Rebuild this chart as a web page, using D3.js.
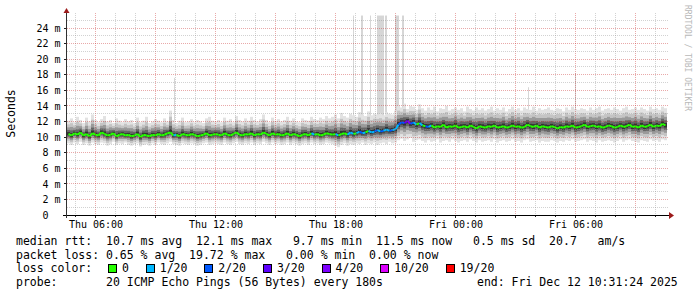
<!DOCTYPE html>
<html>
<head>
<meta charset="utf-8">
<script src="https://cdn.jsdelivr.net/npm/d3@7"></script>
<style>
  body { margin: 0; background: #fff; }
  text { font-family: "DejaVu Sans Mono", monospace; }
</style>
</head>
<body>
<div id="chart"></div>
<script>
// time window of the graph, one sample every 9 minutes
var startTime = "2025-12-11T04:34:30";
var endTime = "2025-12-12T10:34:30";
var stepMinutes = 9;

// median rtt per step (ms)
var median = [
  10.4,10.2,10.5,10.3,10.6,10.2,10.4,10.1,10.5,10.3,
  10.2,10.6,10.4,10.2,10.3,10.5,10.1,10.3,10.4,10.2,
  10.3,10.1,10.2,10.4,10.0,10.3,10.2,10.1,10.3,10.2,
  10.4,10.2,10.3,10.5,10.6,10.2,10.3,10.1,10.4,10.3,
  10.2,10.4,10.3,10.1,10.2,10.3,10.5,10.2,10.3,10.4,
  10.3,10.2,10.5,10.3,10.2,10.4,10.6,10.3,10.2,10.4,
  10.3,10.5,10.2,10.4,10.3,10.6,10.4,10.2,10.5,10.3,
  10.4,10.2,10.3,10.5,10.2,10.4,10.3,10.1,10.3,10.4,
  10.2,10.5,10.3,10.4,10.2,10.3,10.5,10.4,10.3,10.4,
  10.2,10.4,10.5,10.3,10.6,10.4,10.5,10.7,10.5,10.6,
  10.8,10.6,10.7,10.9,10.7,10.8,11.0,10.8,10.9,11.0,
  11.6,11.9,11.8,12.1,11.7,11.9,11.6,11.8,11.5,11.4,
  11.3,11.5,11.2,11.4,11.3,11.6,11.2,11.4,11.3,11.5,
  11.2,11.3,11.4,11.2,11.5,11.3,11.1,11.4,11.3,11.2,
  11.4,11.3,11.5,11.2,11.3,11.4,11.2,11.3,11.5,11.3,
  11.4,11.2,11.3,11.6,11.4,11.3,11.5,11.2,11.4,11.3,
  11.2,11.4,11.3,11.1,11.3,11.2,11.4,11.3,11.5,11.2,
  11.3,11.4,11.6,11.3,11.4,11.5,11.3,11.4,11.2,11.3,
  11.5,11.4,11.2,11.3,11.5,11.3,11.4,11.6,11.3,11.4,
  11.2,11.5,11.3,11.4,11.6,11.3,11.5,11.4,11.7,11.5
];

// fastest ping per step (ms)
var lo = [
  9.2,9.0,9.3,9.1,9.4,9.0,9.2,8.9,9.3,9.1,
  9.0,9.3,9.2,8.9,9.1,9.4,9.0,9.2,9.1,9.3,
  9.0,8.9,9.1,9.2,8.8,9.0,9.1,8.9,9.2,9.0,
  9.3,9.1,9.0,9.2,9.4,9.1,9.0,8.9,9.2,9.1,
  9.0,9.2,9.1,8.9,9.0,9.2,9.3,9.0,9.1,9.2,
  9.1,9.0,9.3,9.1,9.0,9.2,9.4,9.1,9.0,9.2,
  9.1,9.3,9.0,9.2,9.1,9.4,9.2,9.0,9.3,9.1,
  9.2,9.0,9.1,9.3,9.0,9.2,9.1,8.9,9.1,9.2,
  9.0,9.3,9.1,9.2,9.0,9.1,9.3,9.2,9.1,8.9,
  8.7,9.0,9.2,8.9,9.1,9.0,9.2,9.1,9.3,9.0,
  9.2,9.1,9.3,9.0,9.2,9.3,9.1,9.4,9.2,9.3,
  9.6,9.8,9.5,9.7,9.9,9.4,9.6,9.7,9.5,9.3,
  9.6,9.4,9.5,9.7,9.3,9.5,9.6,9.4,9.7,9.5,
  9.3,9.5,9.6,9.4,9.7,9.5,9.3,9.6,9.4,9.5,
  9.6,9.4,9.7,9.3,9.5,9.6,9.4,9.5,9.7,9.4,
  9.5,9.3,9.6,9.7,9.4,9.5,9.6,9.3,9.5,9.4,
  9.4,9.6,9.5,9.3,9.5,9.4,9.6,9.5,9.7,9.4,
  9.5,9.6,9.7,9.4,9.6,9.5,9.3,9.6,9.4,9.5,
  9.6,9.5,9.3,9.5,9.7,9.4,9.6,9.7,9.5,9.4,
  9.3,9.6,9.5,9.4,9.7,9.5,9.6,9.4,9.7,9.6
];

// slowest ping per step (ms)
var hi = [
  12.1,12.4,11.9,12.6,12.2,11.8,12.5,12.0,12.9,12.2,
  11.9,12.3,12.7,12.0,12.2,11.8,12.4,12.1,11.9,12.3,
  12.0,12.2,11.8,12.5,11.9,12.1,12.6,11.8,12.0,12.3,
  12.1,11.9,12.4,12.0,13.4,12.2,11.8,12.1,12.5,11.9,
  12.0,12.3,11.9,12.2,12.0,11.8,12.4,12.6,12.1,12.0,
  12.2,11.9,12.5,12.1,12.3,11.9,12.7,12.2,12.0,12.4,
  12.1,12.6,12.2,12.0,12.3,12.9,12.2,11.9,12.5,12.1,
  12.3,12.0,12.2,12.6,12.1,12.4,12.0,11.9,12.4,12.2,
  12.1,12.6,12.3,12.2,12.5,12.3,12.7,12.4,12.6,12.9,
  12.4,13.1,12.7,12.5,13.0,12.8,12.6,13.2,12.9,12.7,
  13.3,12.8,13.0,12.9,13.1,12.8,13.2,13.0,12.9,13.4,
  14.1,13.8,14.3,13.6,14.0,13.9,13.5,14.2,13.7,13.4,
  13.8,13.5,13.9,13.3,13.7,13.6,14.0,13.4,13.6,13.8,
  13.5,13.7,13.3,13.9,13.6,13.4,13.8,13.5,13.7,13.4,
  13.6,13.9,13.4,13.7,13.5,13.8,13.3,13.6,13.9,13.5,
  13.7,13.4,13.8,13.6,13.5,13.9,13.4,13.7,13.5,13.6,
  13.8,13.5,13.4,13.7,13.6,13.3,13.8,13.5,13.9,13.6,
  13.5,13.7,13.6,13.4,13.8,13.5,13.7,13.9,13.4,13.6,
  13.7,13.5,13.8,13.6,13.4,13.7,13.9,13.5,13.6,13.8,
  13.5,13.8,13.6,13.4,13.9,13.6,13.7,13.5,13.9,13.7
];

// lost pings out of 20 per step
var loss = [
  0,0,0,0,0,0,0,0,0,0, 0,0,0,0,0,0,0,0,0,0,
  0,0,0,0,0,0,0,0,0,0, 0,0,0,0,0,1,0,0,0,0,
  0,0,0,0,0,0,0,0,0,0, 0,0,0,0,0,0,0,0,0,0,
  0,0,0,0,0,0,0,0,0,0, 0,0,0,0,0,0,0,0,0,0,
  0,1,0,0,0,0,0,0,0,1, 0,0,0,1,1,0,1,2,1,0,
  1,1,2,1,2,1,1,2,1,1, 2,2,3,4,2,1,0,1,0,2,
  1,0,0,0,0,0,0,0,0,0, 0,0,0,0,0,0,0,0,0,0,
  0,0,0,0,0,0,0,0,0,0, 0,0,0,0,0,0,0,0,0,0,
  0,0,0,0,0,0,0,0,0,0, 0,0,0,0,0,0,0,0,0,0,
  0,0,0,0,0,0,0,0,0,0, 0,0,0,0,0,0,0,0,0,0
];

// single slow pings (3 minute samples) sticking out of the smoke
var outlierTimes = [
  "2025-12-11T09:55:30", "2025-12-11T18:52:30", "2025-12-11T19:16:30", "2025-12-11T19:19:30",
  "2025-12-11T19:43:30", "2025-12-11T20:04:30", "2025-12-11T20:07:30", "2025-12-11T20:10:30",
  "2025-12-11T20:13:30", "2025-12-11T20:16:30", "2025-12-11T20:19:30", "2025-12-11T20:22:30",
  "2025-12-11T20:28:30", "2025-12-11T20:31:30", "2025-12-11T20:58:30", "2025-12-11T21:01:30",
  "2025-12-11T21:04:30", "2025-12-11T21:07:30", "2025-12-11T21:19:30", "2025-12-11T21:22:30",
  "2025-12-12T03:37:30", "2025-12-12T05:58:30"
];
var outlierValues = [
  17.6, 25.6, 25.6, 25.6,
  25.6, 25.6, 25.6, 25.6,
  25.6, 25.6, 25.6, 25.6,
  25.6, 25.6, 25.6, 25.6,
  25.6, 25.6, 25.6, 25.6,
  16.4, 18.2
];

var yTickValues = [0, 2, 4, 6, 8, 10, 12, 14, 16, 18, 20, 22, 24];

var lossLabels = ["0", "1/20", "2/20", "3/20", "4/20", "10/20", "19/20"];
var lossLimits = [0, 1, 2, 3, 4, 10, 19];
var lossColors = ["#26ff00", "#00b8ff", "#0059ff", "#5e00ff", "#7e00ff", "#dd00ff", "#ff0000"];

var legendLines = [
  "median rtt:  10.7 ms avg  12.1 ms max   9.7 ms min  11.5 ms now   0.5 ms sd  20.7   am/s",
  "packet loss: 0.65 % avg  19.72 % max   0.00 % min  0.00 % now",
  "loss color:",
  "probe:       20 ICMP Echo Pings (56 Bytes) every 180s"
];
var endLabel = "end: Fri Dec 12 10:31:24 2025";

// ---------------------------------------------------------------
var w = 697, h = 297;
var plotLeft = 67, plotRight = 667, plotTop = 15, plotBase = 215;
var yMax = 25.67;

var parse = d3.timeParse("%Y-%m-%dT%H:%M:%S");
var t0 = parse(startTime), t1 = parse(endTime);

var xScale = d3.scaleTime().domain([t0, t1]).range([plotLeft, plotRight]);
var yScale = d3.scaleLinear().domain([0, yMax]).range([plotBase, plotTop]);

function lossColor(n) {
  var c = lossColors[0];
  lossLimits.forEach(function(l, i) { if (n >= l) c = lossColors[i]; });
  return c;
}

var steps = median.map(function(m, i) {
  return {
    t: d3.timeMinute.offset(t0, i * stepMinutes),
    t2: d3.timeMinute.offset(t0, (i + 1) * stepMinutes),
    med: m, lo: lo[i], hi: hi[i], loss: loss[i]
  };
});

var svg = d3.select("#chart").append("svg")
  .attr("width", w).attr("height", h)
  .style("display", "block");

svg.append("rect").attr("width", w).attr("height", h).attr("fill", "#fff");

// outliers (under the smoke)
svg.append("g").selectAll("rect")
  .data(outlierTimes.map(function(s, i) { return { t: parse(s), v: outlierValues[i] }; }))
  .enter().append("rect")
  .attr("x", function(d) { return xScale(d.t); })
  .attr("width", function(d) { return xScale(d3.timeMinute.offset(d.t, 3)) - xScale(d.t); })
  .attr("y", function(d) { return yScale(d.v); })
  .attr("height", function(d) { return yScale(10) - yScale(d.v); })
  .attr("fill", "#d6d6d6");

// smoke, outer layer light -> inner layer dark
var layers = [
  { f: 1.0, c: "#e2e2e2" },
  { f: 0.72, c: "#c4c4c4" },
  { f: 0.5, c: "#9a9a9a" },
  { f: 0.3, c: "#666666" },
  { f: 0.14, c: "#333333" }
];
layers.forEach(function(L) {
  svg.append("g").selectAll("rect")
    .data(steps)
    .enter().append("rect")
    .attr("x", function(d) { return xScale(d.t); })
    .attr("width", function(d) { return xScale(d.t2) - xScale(d.t); })
    .attr("y", function(d) { return yScale(d.med + (d.hi - d.med) * L.f); })
    .attr("height", function(d) {
      return yScale(d.med - (d.med - d.lo) * L.f) - yScale(d.med + (d.hi - d.med) * L.f);
    })
    .attr("fill", L.c);
});

// median line coloured by loss
var mid = function(d) { return xScale(new Date((d.t.getTime() + d.t2.getTime()) / 2)); };
var seg = d3.line().x(function(d) { return mid(d); }).y(function(d) { return yScale(d.med); });
svg.append("g").selectAll("path")
  .data(d3.pairs(steps))
  .enter().append("path")
  .attr("d", function(p) { return seg(p); })
  .attr("fill", "none")
  .attr("stroke", function(p) { return lossColor(p[0].loss); })
  .attr("stroke-width", 2);

// grid
var grid = svg.append("g").attr("shape-rendering", "crispEdges");
var hours = d3.timeHour.every(1).range(t0, t1);
hours.forEach(function(t) {
  var x = Math.floor(xScale(t)) + 0.5;
  grid.append("line")
    .attr("x1", x).attr("x2", x).attr("y1", plotTop - 2).attr("y2", plotBase)
    .attr("stroke", t.getHours() % 3 === 0 ? "rgba(200,40,40,0.4)" : "rgba(143,143,143,0.4)")
    .attr("stroke-dasharray", "1,1");
});
d3.range(1, 26).forEach(function(v) {
  var y = Math.floor(yScale(v)) + 0.5;
  grid.append("line")
    .attr("x1", plotLeft).attr("x2", plotRight + 2).attr("y1", y).attr("y2", y)
    .attr("stroke", v % 2 === 0 ? "rgba(200,40,40,0.4)" : "rgba(143,143,143,0.4)")
    .attr("stroke-dasharray", "1,1");
});

// axes
var xAxis = d3.axisBottom(xScale)
  .tickValues(d3.timeHour.every(6).range(t0, t1))
  .tickFormat(d3.timeFormat("%a %H:%M"))
  .tickSize(0).tickPadding(6);
var gx = svg.append("g").attr("transform", "translate(0," + plotBase + ")").call(xAxis);
gx.select(".domain").remove();
gx.selectAll("text").attr("font-family", "DejaVu Sans Mono").attr("font-size", "10px").attr("fill", "#000");

var yAxis = d3.axisLeft(yScale)
  .tickValues(yTickValues)
  .tickFormat(function(v) { return v === 0 ? "0  " : v + " m"; })
  .tickSize(0).tickPadding(6.5);
var gy = svg.append("g").attr("transform", "translate(" + plotLeft + ",0)").call(yAxis);
gy.select(".domain").remove();
gy.selectAll("text").attr("font-family", "DejaVu Sans Mono").attr("font-size", "10px")
  .attr("fill", "#000").style("white-space", "pre");

var ax = svg.append("g").attr("shape-rendering", "crispEdges");
hours.forEach(function(t) {
  var x = Math.floor(xScale(t)) + 0.5;
  ax.append("line").attr("x1", x).attr("x2", x).attr("y1", plotBase)
    .attr("y2", plotBase + (t.getHours() % 3 === 0 ? 3 : 2)).attr("stroke", "#202020");
});
yTickValues.forEach(function(v) {
  var y = Math.floor(yScale(v)) + 0.5;
  ax.append("line").attr("x1", plotLeft - 3).attr("x2", plotLeft).attr("y1", y).attr("y2", y).attr("stroke", "#202020");
});
ax.append("line").attr("x1", plotLeft - 4).attr("x2", plotRight + 3).attr("y1", plotBase + 0.5).attr("y2", plotBase + 0.5)
  .attr("stroke", "#000");
ax.append("line").attr("x1", plotLeft - 0.5).attr("x2", plotLeft - 0.5).attr("y1", plotBase + 3).attr("y2", plotTop - 3)
  .attr("stroke", "#303030");
svg.append("path").attr("d", "M" + (plotRight + 2) + "," + (plotBase - 3) + "L" + (plotRight + 7) + "," + (plotBase + 0.5) + "L" + (plotRight + 2) + "," + (plotBase + 4) + "Z")
  .attr("fill", "#9c1b1b");
svg.append("path").attr("d", "M" + (plotLeft - 3.5) + "," + (plotTop - 2) + "L" + (plotLeft - 0.5) + "," + (plotTop - 7) + "L" + (plotLeft + 2.5) + "," + (plotTop - 2) + "Z")
  .attr("fill", "#9c1b1b");

// titles
svg.append("text")
  .attr("transform", "translate(14.5,113.5) rotate(-90)")
  .attr("text-anchor", "middle")
  .attr("font-size", "11.5px")
  .text("Seconds");
svg.append("text")
  .attr("transform", "translate(685,5) rotate(90)")
  .attr("font-size", "8px")
  .attr("fill", "#b8b8b8")
  .text("RRDTOOL / TOBI OETIKER");

// legend
var lineY = [245, 258.6, 272.2, 285.8];
legendLines.forEach(function(s, i) {
  svg.append("text").attr("x", 16).attr("y", lineY[i])
    .attr("font-size", "11.5px").style("white-space", "pre").text(s);
});
svg.append("text").attr("x", 477).attr("y", lineY[3])
  .attr("font-size", "11.5px").style("white-space", "pre").text(endLabel);

var cursor = 108;
lossLabels.forEach(function(lab, i) {
  svg.append("rect").attr("x", cursor + 0.5).attr("y", 264.5).attr("width", 8).attr("height", 8)
    .attr("fill", lossColors[i]).attr("stroke", "#000").attr("shape-rendering", "crispEdges");
  svg.append("text").attr("x", cursor + 14).attr("y", lineY[2])
    .attr("font-size", "11.5px").text(lab);
  cursor = cursor + 14 + lab.length * 6.95 + 16.8;
});
</script>
</body>
</html>
